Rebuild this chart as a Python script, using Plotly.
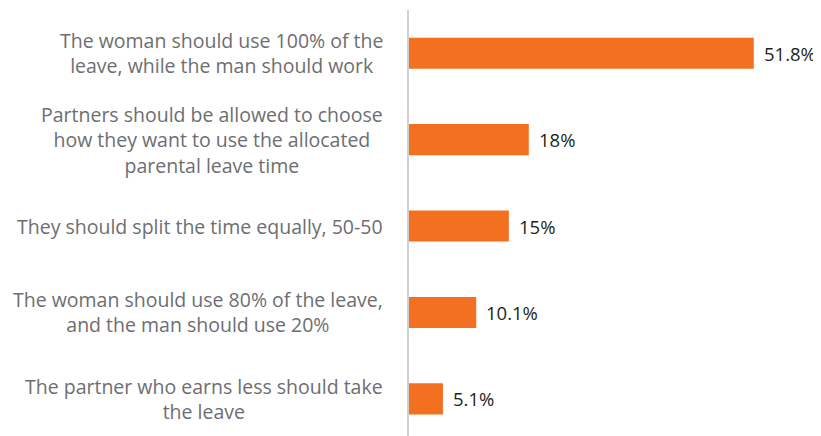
import plotly.graph_objects as go

# survey answers, top to bottom
answers = [
    "The woman should use 100% of the<br>leave, while the man should work",
    "Partners should be allowed to choose<br>how they want to use the allocated<br>parental leave time",
    "They should split the time equally, 50-50",
    "The woman should use 80% of the leave,<br>and the man should use 20%",
    "The partner who earns less should take<br>the leave",
]
shares = [51.8, 18, 15, 10.1, 5.1]

orange = "#F37021"
label_grey = "#6D6E71"

fig = go.Figure()
fig.add_trace(go.Bar(
    x=shares, y=list(range(len(answers))), orientation="h",
    marker=dict(color=orange, line=dict(width=0)),
    width=0.36, hoverinfo="skip",
))

# category labels, centred blocks to the left of the axis
for i, a in enumerate(answers):
    fig.add_annotation(x=0, y=i, xref="x", yref="y", text=a, showarrow=False,
                       xanchor="right", yanchor="middle", align="center", xshift=-24,
                       font=dict(family="Open Sans", size=19.5, color=label_grey))

# value labels
for i, v in enumerate(shares):
    fig.add_annotation(x=v, y=i, xref="x", yref="y", text=f"{v:g}%", showarrow=False,
                       xanchor="left", yanchor="middle", xshift=8,
                       font=dict(family="Open Sans", size=18.5, color="#231F20"))

# page body has an 8px margin, so shift everything up/left by that
fig.update_layout(
    width=813, height=428,
    margin=dict(l=401, r=0, t=2, b=0),
    paper_bgcolor="white", plot_bgcolor="white",
    showlegend=False,
    xaxis=dict(range=[0, 61.9], visible=False, fixedrange=True),
    yaxis=dict(range=[4.43, -0.5], showticklabels=False, showgrid=False, zeroline=False,
               showline=True, linecolor="#D0D0D0", linewidth=2, ticks=""),
)

fig.write_html("out.html")
